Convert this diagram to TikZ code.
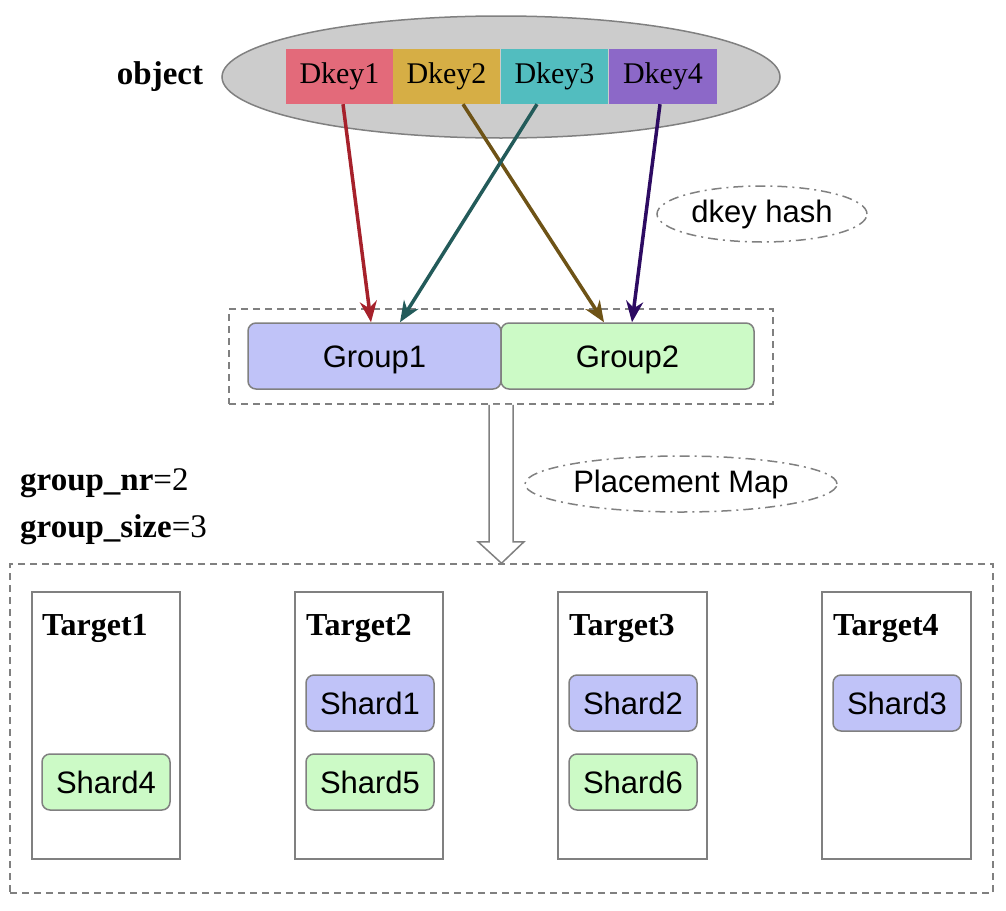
\documentclass[tikz,border=0pt]{standalone}
\usepackage{fontspec}
\setmainfont{Liberation Serif}
\setsansfont{Liberation Sans}
\usetikzlibrary{arrows.meta,shapes.geometric,calc}
\definecolor{ellfill}{HTML}{CCCCCC}
\definecolor{edge}{HTML}{808080}
\definecolor{dkA}{HTML}{E36A7A}
\definecolor{dkB}{HTML}{D6AE45}
\definecolor{dkC}{HTML}{52BDBF}
\definecolor{dkD}{HTML}{8C68C8}
\definecolor{arA}{HTML}{A6212B}
\definecolor{arB}{HTML}{6E5316}
\definecolor{arC}{HTML}{235B5A}
\definecolor{arD}{HTML}{2D0B62}
\definecolor{blueF}{HTML}{C0C3F8}
\definecolor{greenF}{HTML}{CCFAC6}
\tikzset{
  dkbox/.style={minimum width=107pt,minimum height=55pt,inner sep=0pt,font=\fontsize{30}{34}\selectfont},
  grpbox/.style={draw=edge,line width=1.5pt,rounded corners=8pt,minimum width=253pt,minimum height=66pt,inner sep=0pt,text height=23pt,text depth=0pt,font=\sffamily\fontsize{31}{36}\selectfont},
  shardbox/.style={draw=edge,line width=1.5pt,rounded corners=8pt,minimum width=128pt,minimum height=56pt,inner sep=0pt,text height=23pt,text depth=0pt,font=\sffamily\fontsize{31}{36}\selectfont},
  tgtbox/.style={draw=edge,line width=1.5pt,minimum width=148pt,minimum height=267pt,inner sep=0pt},
  tgtlabel/.style={anchor=base west,inner sep=0pt,font=\bfseries\fontsize{32}{36}\selectfont},
  dashbox/.style={draw=edge,line width=1.5pt,dash pattern=on 7pt off 5pt},
  hashell/.style={ellipse,draw=edge,line width=1.5pt,dash pattern=on 10pt off 5pt on 2pt off 5pt,inner sep=0pt,font=\sffamily\fontsize{31}{36}\selectfont},
  keyarrow/.style={line width=3.5pt,-{Stealth[length=21pt,width=17pt]}},
}
\begin{document}
\begin{tikzpicture}[x=1pt,y=-1pt]
\useasboundingbox (0,0) rectangle (1006,910);
% object ellipse
\node[ellipse,draw=edge,fill=ellfill,line width=1.5pt,minimum width=558pt,minimum height=122pt,inner sep=0pt] (obj) at (501,77) {};
\node[font=\bfseries\fontsize{33}{36}\selectfont] (objlabel) at (160,77) {object};
\node[dkbox,fill=dkA] (dk1) at (339.5,76.5) {Dkey1};
\node[dkbox,fill=dkB] (dk2) at (446.5,76.5) {Dkey2};
\node[dkbox,fill=dkC] (dk3) at (554.5,76.5) {Dkey3};
\node[dkbox,fill=dkD,minimum width=108pt] (dk4) at (663,76.5) {Dkey4};
% groups
\node[dashbox,minimum width=544pt,minimum height=95pt,inner sep=0pt] (gframe) at (501,356.5) {};
\node[grpbox,fill=blueF] (g1) at (374.5,356) {Group1};
\node[grpbox,fill=greenF] (g2) at (627.5,356) {Group2};
% hash label
\node[hashell,minimum width=210pt,minimum height=56pt] (hash) at (762,214) {dkey hash};
% arrows
\draw[keyarrow,arA] ([xshift=3.5pt]dk1.south) -- ([xshift=-3.5pt]g1.north);
\draw[keyarrow,arB] ([xshift=16.5pt]dk2.south) -- ([xshift=-23.5pt]g2.north);
\draw[keyarrow,arC] ([xshift=-17.5pt]dk3.south) -- ([xshift=25.5pt]g1.north);
\draw[keyarrow,arD] ([xshift=-3pt]dk4.south) -- ([xshift=4.5pt]g2.north);
% placement map
\node[hashell,minimum width=312pt,minimum height=56pt] (pmap) at (681,484) {Placement Map};
\node[anchor=base west,inner sep=0pt,font=\fontsize{33}{36}\selectfont] (gnr) at (20,490) {\textbf{group\_nr}=2};
\node[anchor=base west,inner sep=0pt,font=\fontsize{33}{36}\selectfont] (gsz) at (20,537) {\textbf{group\_size}=3};
% outer frame
\node[dashbox,minimum width=983pt,minimum height=329pt,inner sep=0pt] (tframe) at (501.5,728.5) {};
% block arrow
\draw[draw=edge,fill=white,line width=1.5pt,line join=miter]
  ($(gframe.south)+(-12,0)$) -- ++(0,137) -- ++(-11,0) -- (tframe.north) -- ($(gframe.south)+(23,137)$) -- ++(-11,0) -- ($(gframe.south)+(12,0)$);
% targets
\node[tgtbox] (t1) at (106,725.5) {};
\node[tgtbox] (t2) at (369,725.5) {};
\node[tgtbox,minimum width=149pt] (t3) at (632.5,725.5) {};
\node[tgtbox,minimum width=149pt] (t4) at (896.5,725.5) {};
\node[tgtlabel] (t1l) at (42,635) {Target1};
\node[tgtlabel] (t2l) at (306,635) {Target2};
\node[tgtlabel] (t3l) at (569,635) {Target3};
\node[tgtlabel] (t4l) at (833,635) {Target4};
% shards
\node[shardbox,fill=greenF] (s4) at (106,782) {Shard4};
\node[shardbox,fill=blueF] (s1) at (370,703) {Shard1};
\node[shardbox,fill=greenF] (s5) at (370,782) {Shard5};
\node[shardbox,fill=blueF] (s2) at (633,703) {Shard2};
\node[shardbox,fill=greenF] (s6) at (633,782) {Shard6};
\node[shardbox,fill=blueF] (s3) at (897,703) {Shard3};
\end{tikzpicture}
\end{document}
